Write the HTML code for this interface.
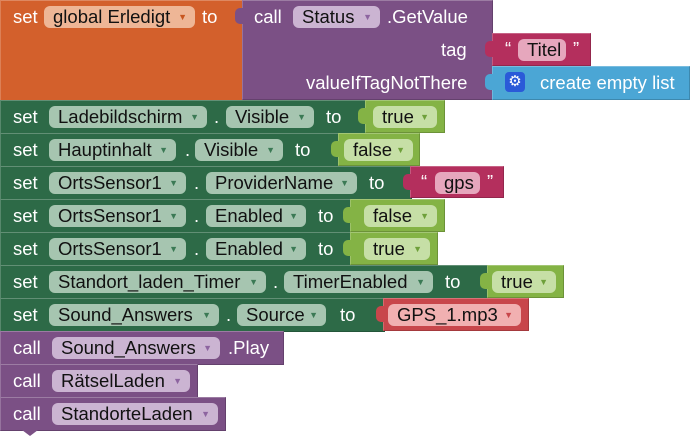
<!DOCTYPE html>
<html><head><meta charset="utf-8"><style>
body{margin:0;width:690px;height:436px;background:#fff;position:relative;overflow:hidden;font-family:"Liberation Sans",Arial,sans-serif;font-size:18.5px}
.b{position:absolute;box-sizing:border-box;border:1px solid rgba(0,0,0,.18);border-top-color:rgba(255,255,255,.25);border-left-color:rgba(255,255,255,.2)}
.t{position:absolute;color:#fff;line-height:20px;white-space:nowrap}
.p{position:absolute;height:22px;border-radius:6px;color:#111;line-height:22px;padding-left:9px;box-sizing:border-box;white-space:nowrap}
.p i{font-style:normal;font-size:9px;position:absolute;right:8px;top:0}
.k{position:absolute;width:8px;height:16px;border-radius:5px 0 0 5px}
.g{background:#2d6a47}.gp{background:#a6c5b0}.gp i{color:#3b7a55}
.l{background:#84b345}.lp{background:#c6dfa6}.lp i{color:#6ea03a}
.o{background:#d3602c}.op{background:#eeb696}.op i{color:#c8561f}
.pu{background:#7b5085}.pp{background:#cbb4d2}.pp i{color:#8d64a0}
.r{background:#b42f5d}.rp{background:#e6a7bd}
.r2{background:#c8464b}.r2p{background:#f1b0b1}.r2p i{color:#c8464b}
.bl{background:#4ba6d5}
</style></head><body>
<div class="b o" style="left:0;top:0;width:243px;height:101px"></div>
<div class="t" style="left:13px;top:7px">set</div>
<div class="p op" style="left:44px;top:6px;width:151px">global Erledigt<i>▼</i></div>
<div class="t" style="left:202px;top:7px">to</div>
<div class="b pu" style="left:242px;top:0;width:251px;height:100px"></div>
<div class="k pu" style="left:235px;top:8px"></div>
<div class="t" style="left:254px;top:7px">call</div>
<div class="p pp" style="left:293px;top:6px;width:87px">Status<i>▼</i></div>
<div class="t" style="left:387px;top:7px">.GetValue</div>
<div class="t" style="left:441px;top:40px">tag</div>
<div class="t" style="left:306px;top:73px">valueIfTagNotThere</div>
<div class="b r" style="left:492px;top:33px;width:99px;height:33px"></div>
<div class="k r" style="left:485px;top:41px"></div>
<div class="t" style="left:505px;top:39px">“</div>
<div class="p rp" style="left:518px;top:39px;width:48px">Titel</div>
<div class="t" style="left:573px;top:39px">”</div>
<div class="b bl" style="left:492px;top:66px;width:198px;height:34px"></div>
<div class="k bl" style="left:485px;top:74px"></div>
<div style="position:absolute;left:505px;top:72px;width:20px;height:20px;background:#2a5ad8;border-radius:4px;color:#fff;font-size:15px;line-height:20px;text-align:center">⚙</div>
<div class="t" style="left:540px;top:73px">create empty list</div>

<div class="b g" style="left:0;top:100px;width:366px;height:34px"></div>
<div class="t" style="left:13px;top:107px">set</div>
<div class="p gp" style="left:49px;top:106px;width:158px">Ladebildschirm<i>▼</i></div>
<div class="t" style="left:214px;top:107px">.</div>
<div class="p gp" style="left:226px;top:106px;width:88px">Visible<i>▼</i></div>
<div class="t" style="left:326px;top:107px">to</div>
<div class="b l" style="left:365px;top:100px;width:80px;height:33px"></div>
<div class="k l" style="left:358px;top:108px"></div>
<div class="p lp" style="left:373px;top:106px;width:64px">true<i>▼</i></div>

<div class="b g" style="left:0;top:133px;width:340px;height:34px"></div>
<div class="t" style="left:13px;top:140px">set</div>
<div class="p gp" style="left:49px;top:139px;width:127px">Hauptinhalt<i>▼</i></div>
<div class="t" style="left:185px;top:140px">.</div>
<div class="p gp" style="left:195px;top:139px;width:88px">Visible<i>▼</i></div>
<div class="t" style="left:295px;top:140px">to</div>
<div class="b l" style="left:338px;top:133px;width:82px;height:33px"></div>
<div class="k l" style="left:331px;top:141px"></div>
<div class="p lp" style="left:344px;top:139px;width:69px">false<i>▼</i></div>

<div class="b g" style="left:0;top:166px;width:412px;height:34px"></div>
<div class="t" style="left:13px;top:173px">set</div>
<div class="p gp" style="left:49px;top:172px;width:137px">OrtsSensor1<i>▼</i></div>
<div class="t" style="left:194px;top:173px">.</div>
<div class="p gp" style="left:206px;top:172px;width:151px">ProviderName<i>▼</i></div>
<div class="t" style="left:369px;top:173px">to</div>
<div class="b r" style="left:410px;top:166px;width:94px;height:32px"></div>
<div class="k r" style="left:403px;top:174px"></div>
<div class="t" style="left:421px;top:172px">“</div>
<div class="p rp" style="left:435px;top:172px;width:45px">gps</div>
<div class="t" style="left:487px;top:172px">”</div>

<div class="b g" style="left:0;top:199px;width:352px;height:34px"></div>
<div class="t" style="left:13px;top:206px">set</div>
<div class="p gp" style="left:49px;top:205px;width:137px">OrtsSensor1<i>▼</i></div>
<div class="t" style="left:194px;top:206px">.</div>
<div class="p gp" style="left:206px;top:205px;width:100px">Enabled<i>▼</i></div>
<div class="t" style="left:318px;top:206px">to</div>
<div class="b l" style="left:350px;top:199px;width:95px;height:33px"></div>
<div class="k l" style="left:343px;top:207px"></div>
<div class="p lp" style="left:364px;top:205px;width:73px">false<i>▼</i></div>

<div class="b g" style="left:0;top:232px;width:352px;height:34px"></div>
<div class="t" style="left:13px;top:239px">set</div>
<div class="p gp" style="left:49px;top:238px;width:137px">OrtsSensor1<i>▼</i></div>
<div class="t" style="left:194px;top:239px">.</div>
<div class="p gp" style="left:206px;top:238px;width:100px">Enabled<i>▼</i></div>
<div class="t" style="left:318px;top:239px">to</div>
<div class="b l" style="left:350px;top:232px;width:88px;height:33px"></div>
<div class="k l" style="left:343px;top:240px"></div>
<div class="p lp" style="left:364px;top:238px;width:66px">true<i>▼</i></div>

<div class="b g" style="left:0;top:265px;width:489px;height:34px"></div>
<div class="t" style="left:13px;top:272px">set</div>
<div class="p gp" style="left:49px;top:271px;width:217px">Standort_laden_Timer<i>▼</i></div>
<div class="t" style="left:273px;top:272px">.</div>
<div class="p gp" style="left:284px;top:271px;width:149px">TimerEnabled<i>▼</i></div>
<div class="t" style="left:445px;top:272px">to</div>
<div class="b l" style="left:487px;top:265px;width:77px;height:33px"></div>
<div class="k l" style="left:480px;top:273px"></div>
<div class="p lp" style="left:492px;top:271px;width:64px">true<i>▼</i></div>

<div class="b g" style="left:0;top:298px;width:385px;height:34px"></div>
<div class="t" style="left:13px;top:305px">set</div>
<div class="p gp" style="left:49px;top:304px;width:170px">Sound_Answers<i>▼</i></div>
<div class="t" style="left:226px;top:305px">.</div>
<div class="p gp" style="left:237px;top:304px;width:89px">Source<i>▼</i></div>
<div class="t" style="left:340px;top:305px">to</div>
<div class="b r2" style="left:383px;top:298px;width:146px;height:33px"></div>
<div class="k r2" style="left:376px;top:306px"></div>
<div class="p r2p" style="left:388px;top:304px;width:133px">GPS_1.mp3<i>▼</i></div>

<div class="b pu" style="left:0;top:331px;width:284px;height:34px"></div>
<div class="t" style="left:13px;top:338px">call</div>
<div class="p pp" style="left:52px;top:337px;width:168px">Sound_Answers<i>▼</i></div>
<div class="t" style="left:228px;top:338px">.Play</div>
<div class="b pu" style="left:0;top:364px;width:198px;height:34px"></div>
<div class="t" style="left:13px;top:371px">call</div>
<div class="p pp" style="left:52px;top:370px;width:138px">RätselLaden<i>▼</i></div>
<div class="b pu" style="left:0;top:397px;width:226px;height:34px"></div>
<div class="t" style="left:13px;top:404px">call</div>
<div class="p pp" style="left:52px;top:403px;width:166px">StandorteLaden<i>▼</i></div>
<div style="position:absolute;left:22px;top:430px;width:0;height:0;border-left:8px solid transparent;border-right:8px solid transparent;border-top:6px solid #7b5085"></div>
</body></html>
